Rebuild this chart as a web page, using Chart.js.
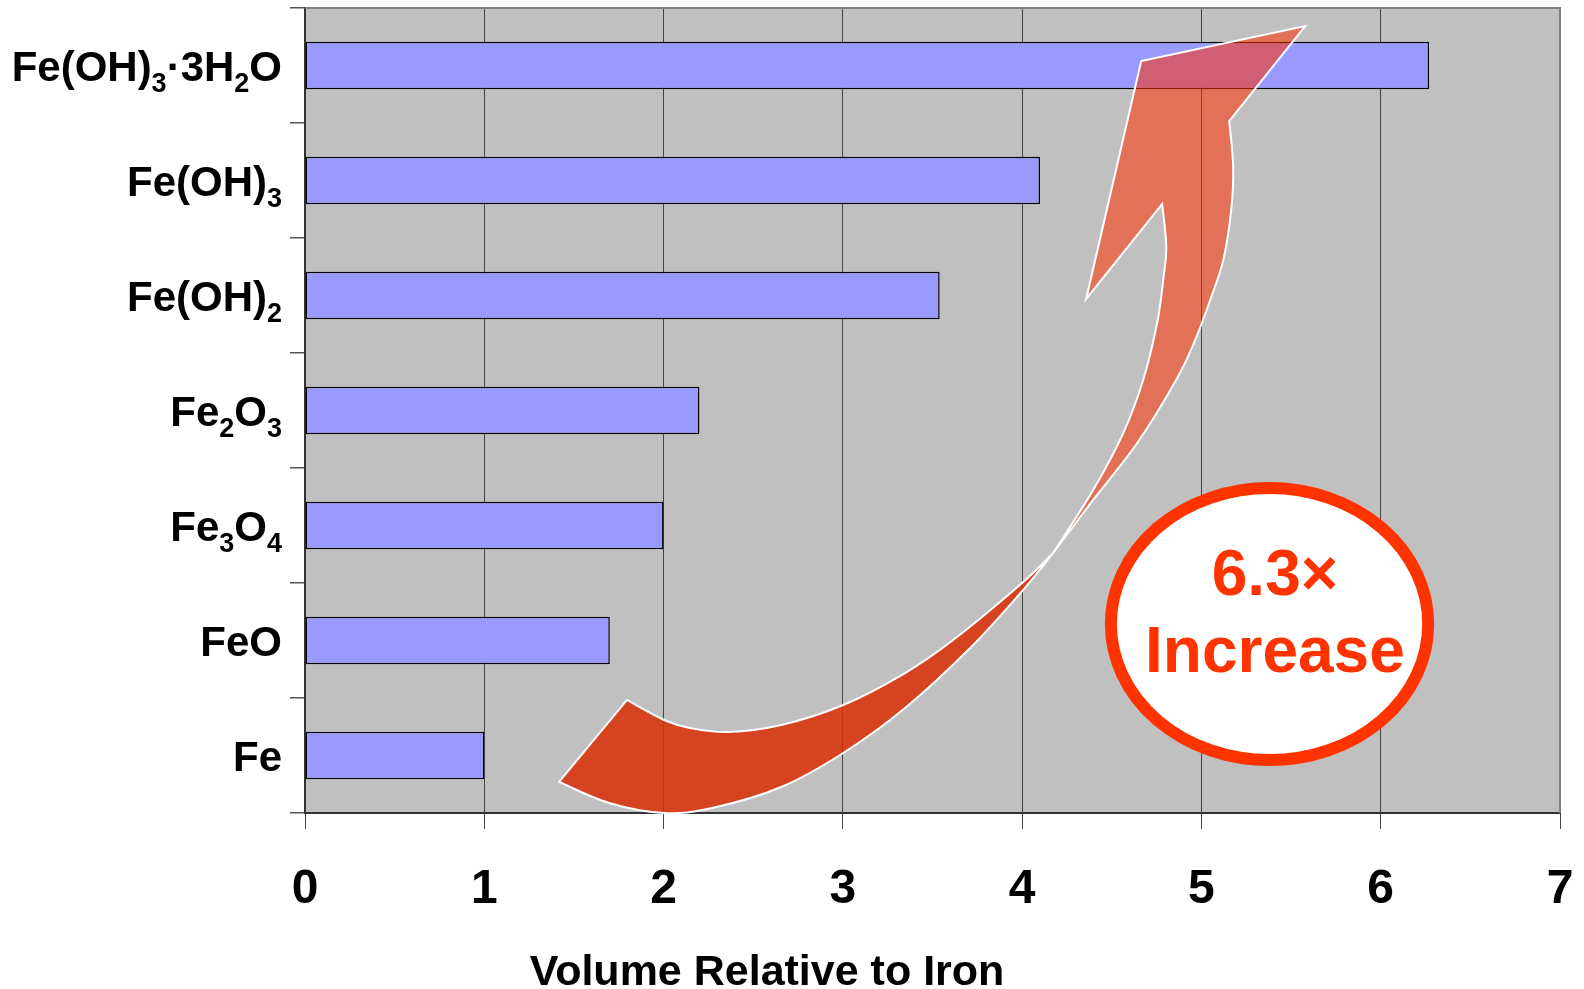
<!DOCTYPE html>
<html>
<head>
<meta charset="utf-8">
<script src="https://cdn.jsdelivr.net/npm/chart.js@4"></script>
<style>
  html, body { margin: 0; padding: 0; background: #fff; }
  #wrap { width: 1584px; height: 989px; }
</style>
</head>
<body>
<div id="wrap"><canvas id="chart" width="1584" height="989"></canvas></div>
<script>
// categories top to bottom, subscripts written as unicode subscript digits
const compounds = ["Fe(OH)₃·3H₂O", "Fe(OH)₃", "Fe(OH)₂", "Fe₂O₃", "Fe₃O₄", "FeO", "Fe"];
const relativeVolume = [6.27, 4.10, 3.54, 2.20, 2.00, 1.70, 1.00];
const xTickValues = [0, 1, 2, 3, 4, 5, 6, 7];
const axisTitle = "Volume Relative to Iron";
const calloutLines = ["6.3×", "Increase"];

const FONT = "'Liberation Sans', Arial, Helvetica, sans-serif";

// curved arrow annotation, in axis units: [x value, category index]
const arrowOuterEdge = [[1.417,6.230],[1.696,6.413],[2.003,6.500],[2.271,6.457],[2.656,6.274],[3.002,5.978],[3.347,5.587],[3.710,5.065],[4.000,4.570],[4.173,4.239]];
const arrowInnerEdge = [[4.173,4.239],[4.000,4.500],[3.615,4.996],[3.347,5.283],[3.002,5.561],[2.656,5.735],[2.360,5.796],[2.148,5.761],[2.003,5.691],[1.796,5.517]];
const headLeftEdge = [[4.173,4.239],[4.396,3.691],[4.564,3.196],[4.675,2.735],[4.753,2.239],[4.787,1.865],[4.804,1.578],[4.781,1.204]];
const headCorners = [[4.357,2.030],[4.664,-0.039],[5.579,-0.343],[5.155,0.483]];
const headRightEdge = [[5.155,0.483],[5.177,0.883],[5.166,1.257],[5.122,1.691],[5.049,2.039],[4.965,2.387],[4.865,2.717],[4.642,3.283],[4.396,3.778],[4.173,4.239]];

const SUBS = "₀₁₂₃₄₅₆₇₈₉";

function splitRuns(label) {
  const runs = [];
  for (const ch of label) {
    const k = SUBS.indexOf(ch);
    const sub = k >= 0;
    const c = sub ? String(k) : ch;
    const last = runs[runs.length - 1];
    if (last && last.sub === sub) last.text += c;
    else runs.push({ text: c, sub: sub });
  }
  return runs;
}

function curveThrough(ctx, pts, first) {
  if (first) ctx.moveTo(pts[0][0], pts[0][1]);
  else ctx.lineTo(pts[0][0], pts[0][1]);
  for (let i = 0; i < pts.length - 1; i++) {
    const p0 = pts[i - 1] || pts[i], p1 = pts[i], p2 = pts[i + 1], p3 = pts[i + 2] || pts[i + 1];
    ctx.bezierCurveTo(
      p1[0] + (p2[0] - p0[0]) / 6, p1[1] + (p2[1] - p0[1]) / 6,
      p2[0] - (p3[0] - p1[0]) / 6, p2[1] - (p3[1] - p1[1]) / 6,
      p2[0], p2[1]);
  }
}

const decorations = {
  id: 'decorations',
  beforeDraw(chart) {
    const { ctx, chartArea: a } = chart;
    ctx.save();
    ctx.fillStyle = '#C0C0C0';
    ctx.fillRect(a.left, a.top, a.right - a.left, a.bottom - a.top);
    ctx.restore();
  },
  afterDatasetsDraw(chart) {
    const { ctx, chartArea: a } = chart;
    const xs = chart.scales.x, ys = chart.scales.y;
    const P = p => [xs.getPixelForValue(p[0]), ys.getPixelForValue(p[1])];

    // plot frame top/right
    ctx.save();
    ctx.strokeStyle = '#808080';
    ctx.lineWidth = 2;
    ctx.beginPath();
    ctx.moveTo(a.left, a.top);
    ctx.lineTo(a.right, a.top);
    ctx.lineTo(a.right, a.bottom);
    ctx.stroke();

    // lower (dark) part of the arrow
    ctx.lineJoin = 'miter';
    ctx.beginPath();
    curveThrough(ctx, arrowOuterEdge.map(P), true);
    curveThrough(ctx, arrowInnerEdge.map(P), false);
    ctx.closePath();
    ctx.fillStyle = 'rgba(218,47,6,0.86)';
    ctx.fill();
    ctx.strokeStyle = '#ffffff';
    ctx.lineWidth = 2;
    ctx.stroke();

    // upper (light) part with head
    ctx.beginPath();
    curveThrough(ctx, headLeftEdge.map(P), true);
    headCorners.map(P).forEach(p => ctx.lineTo(p[0], p[1]));
    curveThrough(ctx, headRightEdge.map(P), false);
    ctx.closePath();
    ctx.fillStyle = 'rgba(255,47,0,0.55)';
    ctx.fill();
    ctx.stroke();

    // callout ellipse
    const cx = xs.getPixelForValue(5.38), cy = ys.getPixelForValue(4.857);
    const rx = xs.getPixelForValue(5.38 + 0.885) - cx;
    const ry = ys.getPixelForValue(4.857 + 1.183) - cy;
    ctx.beginPath();
    ctx.ellipse(cx, cy, rx, ry, 0, 0, Math.PI * 2);
    ctx.fillStyle = '#ffffff';
    ctx.fill();
    ctx.lineWidth = 12;
    ctx.strokeStyle = '#FF3300';
    ctx.stroke();

    ctx.fillStyle = '#FF3300';
    ctx.font = 'bold 64px ' + FONT;
    ctx.textAlign = 'center';
    ctx.textBaseline = 'alphabetic';
    const tx = xs.getPixelForValue(5.41);
    ctx.fillText(calloutLines[0], tx, ys.getPixelForValue(4.604));
    ctx.fillText(calloutLines[1], tx, ys.getPixelForValue(5.274));
    ctx.restore();
  },
  afterDraw(chart) {
    const { ctx, chartArea: a } = chart;
    const ys = chart.scales.y;
    ctx.save();
    ctx.fillStyle = '#000';
    ctx.textBaseline = 'alphabetic';

    // category labels with chemical subscripts
    ctx.textAlign = 'left';
    const right = a.left - 23;
    compounds.forEach((label, i) => {
      const runs = splitRuns(label);
      let w = 0;
      runs.forEach(r => {
        ctx.font = 'bold ' + (r.sub ? 27 : 42) + 'px ' + FONT;
        r.w = ctx.measureText(r.text).width;
        w += r.w;
      });
      const base = ys.getPixelForValue(i) + 15;
      let x = right - w;
      runs.forEach(r => {
        ctx.font = 'bold ' + (r.sub ? 27 : 42) + 'px ' + FONT;
        ctx.fillText(r.text, x, r.sub ? base + 11 : base);
        x += r.w;
      });
    });

    // axis title (sits left of the plot centre in the original)
    ctx.textAlign = 'center';
    ctx.font = 'bold 43px ' + FONT;
    ctx.fillText(axisTitle, 767, chart.height - 4);
    ctx.restore();
  }
};

const ctx = document.getElementById('chart').getContext('2d');
const chart = new Chart(ctx, {
  type: 'bar',
  data: {
    labels: compounds,
    datasets: [{
      data: relativeVolume,
      backgroundColor: '#9999FF',
      borderColor: '#000000',
      borderWidth: 1.5,
      borderSkipped: false,
      barPercentage: 0.415,
      categoryPercentage: 1
    }]
  },
  options: {
    indexAxis: 'y',
    responsive: false,
    animation: false,
    layout: { padding: { top: 8, right: 24, left: 0, bottom: 0 } },
    plugins: {
      legend: { display: false },
      tooltip: { enabled: false }
    },
    scales: {
      x: {
        min: 0,
        max: 7,
        afterFit(scale) { scale.height = 176; scale.paddingLeft = 0; scale.paddingRight = 0; },
        afterBuildTicks(scale) { scale.ticks = xTickValues.map(v => ({ value: v })); },
        ticks: {
          color: '#000',
          padding: 32,
          maxRotation: 0,
          font: { family: FONT, size: 48, weight: 'bold' }
        },
        grid: { color: '#444', lineWidth: 1, tickLength: 16, drawTicks: true },
        border: { color: '#333', width: 2 },
        title: { display: false, text: axisTitle }
      },
      y: {
        afterFit(scale) { scale.width = 305; },
        ticks: { display: false },
        grid: { offset: true, drawOnChartArea: false, drawTicks: true, tickLength: 15, color: '#555', lineWidth: 1.5 },
        border: { color: '#333', width: 2 }
      }
    }
  },
  plugins: [decorations]
});
</script>
</body>
</html>
